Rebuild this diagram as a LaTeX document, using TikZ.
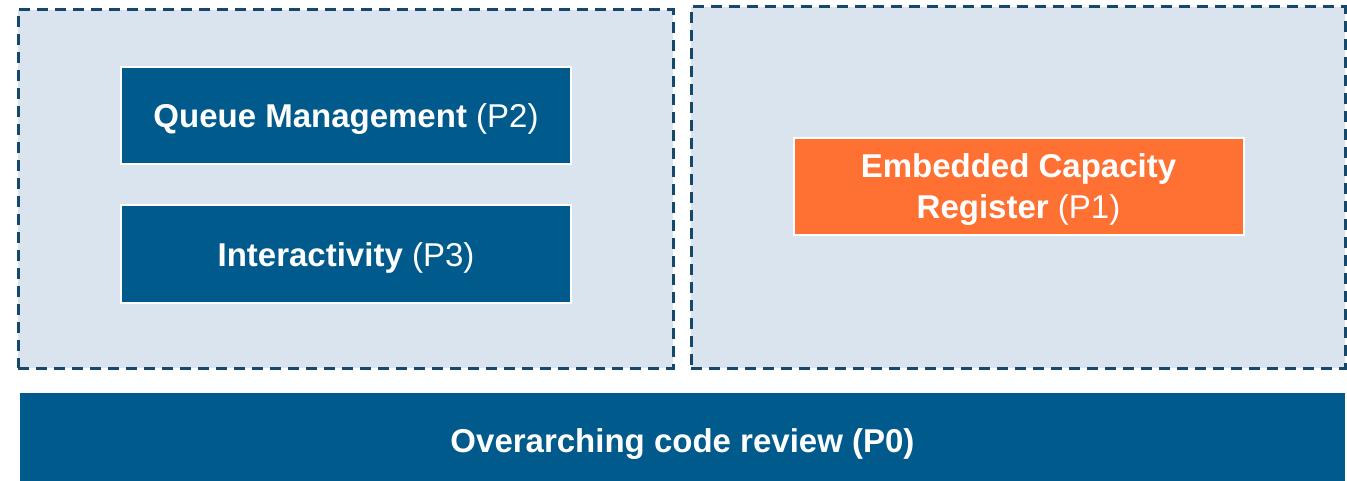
\documentclass[tikz,border=0pt]{standalone}
\usepackage{fontspec}
\setmainfont{Liberation Sans}
\definecolor{boxblue}{RGB}{0,90,140}
\definecolor{groupfill}{RGB}{217,228,239}
\definecolor{groupline}{RGB}{22,72,108}
\definecolor{boxorange}{RGB}{255,113,51}

\begin{document}
\begin{tikzpicture}
                [
                x=1pt,y=-1pt,
                group/.style={rectangle,draw=groupline,fill=groupfill,line width=3pt,dash pattern=on 11pt off 7pt},
                part/.style={rectangle,draw=white,line width=2pt,fill=boxblue,text=white,inner sep=0pt,
                    minimum width=450pt,minimum height=97pt,align=center,text height=25pt,text depth=0pt,
                    font=\fontsize{33}{41}\selectfont\bfseries},
                reg/.style={part,fill=boxorange,text height=65pt},
                base/.style={rectangle,fill=boxblue,text=white,inner sep=0pt,
                    minimum width=1325pt,minimum height=88pt,text height=30pt,text depth=0pt,
                    font=\fontsize{33}{41}\selectfont\bfseries}
                ]
            \useasboundingbox (0,0) rectangle (1347,481);
            \node[group,minimum width=655pt,minimum height=358pt] (left) at (345.5,189) {};
            \node[group,minimum width=654pt,minimum height=361pt] (right) at (1018,187.5) {};
            \node[part] (queue) at (346,115.5) {Queue Management {\mdseries (P2)}};
            \node[part] (inter) at (346,254) {Interactivity {\mdseries (P3)}};
            \node[reg] (ecr) at (1018.5,186.5) {Embedded Capacity\\Register {\mdseries (P1)}};
            \node[base] (review) at (682.5,437) {Overarching code review (P0)};
            \end{tikzpicture}
\end{document}
